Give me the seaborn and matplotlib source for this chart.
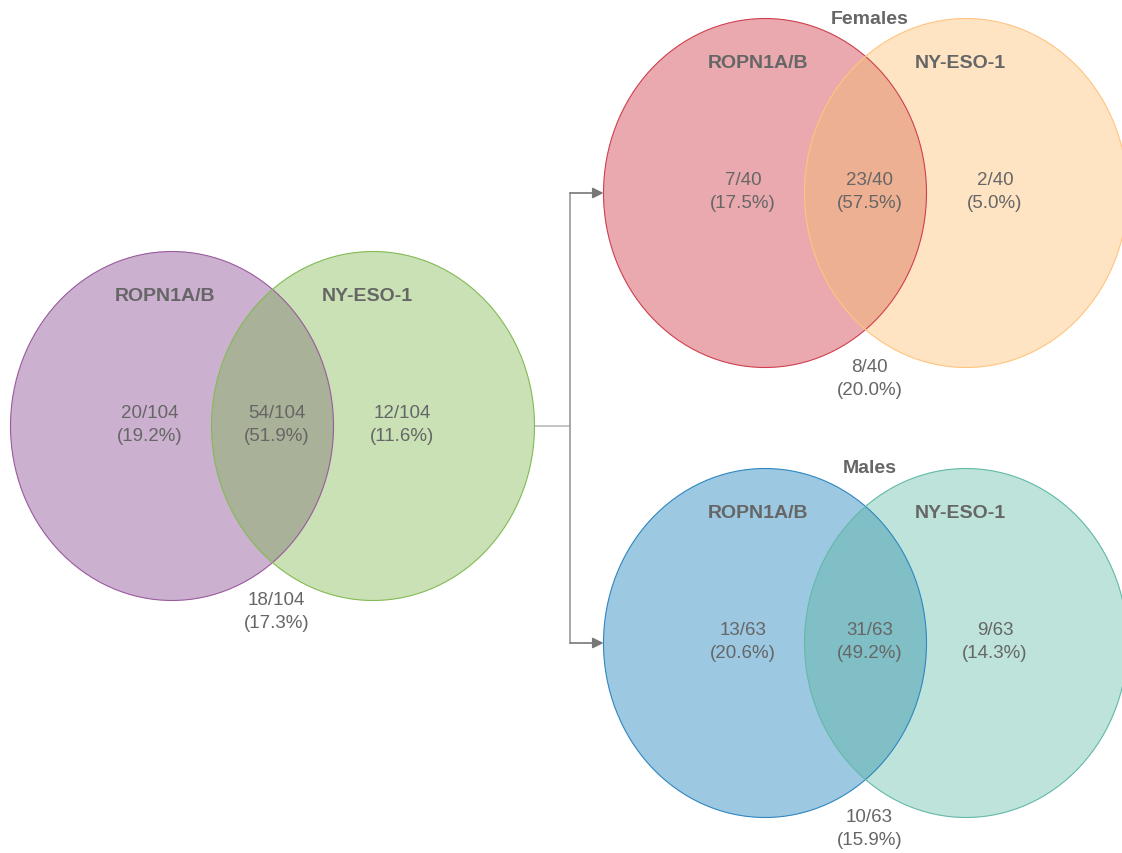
import matplotlib
matplotlib.use("Agg")
import matplotlib.pyplot as plt
from matplotlib.patches import Ellipse
import seaborn as sns

# Venn data
panels = ["All", "Females", "Males"]
set_names = ["ROPN1A/B", "NY-ESO-1"]
totals = [104, 40, 63]
only_ropn = [20, 7, 13]
both = [54, 23, 31]
only_nyeso = [12, 2, 9]
neither = [18, 8, 10]
# percentages as printed (rounded to sum to 100)
pct_ropn = ["19.2", "17.5", "20.6"]
pct_both = ["51.9", "57.5", "49.2"]
pct_nyeso = ["11.6", "5.0", "14.3"]
pct_neither = ["17.3", "20.0", "15.9"]

# layout (pixel coordinates, y downwards)
centers = [(172, 427), (765, 194), (765, 644)]
offset = 201
ew, eh = 323, 349
fills = [("#CBB0CF", "#C9E1B5", "#A9B198"),
         ("#E9A9AE", "#FFE4C4", "#EEB092"),
         ("#9CC8E2", "#BDE3DB", "#80BFC6")]
edges = [("#9A5A9E", "#82BB55"),
         ("#CF3F4E", "#FFC47E"),
         ("#2F86C0", "#62B9A7")]

sns.set_theme(style="white")
plt.rcParams["font.family"] = ["Liberation Sans", "DejaVu Sans"]
txt = "#666666"

fig = plt.figure(figsize=(11.22, 8.54), dpi=100)
ax = fig.add_axes([0, 0, 1, 1])
ax.set_xlim(0, 1122)
ax.set_ylim(854, 0)
ax.axis("off")

for i, (cx, cy) in enumerate(centers):
    fa, fb, fab = fills[i]
    ea, eb = edges[i]
    left = Ellipse((cx, cy), ew, eh, facecolor=fa, edgecolor="none", zorder=1)
    right = Ellipse((cx + offset, cy), ew, eh, facecolor=fb, edgecolor="none", zorder=1)
    ax.add_patch(left)
    ax.add_patch(right)
    inter = Ellipse((cx, cy), ew, eh, facecolor=fab, edgecolor="none", zorder=2)
    ax.add_patch(inter)
    inter.set_clip_path(right)
    ax.add_patch(Ellipse((cx, cy), ew, eh, facecolor="none", edgecolor=ea, lw=0.8, zorder=3))
    ax.add_patch(Ellipse((cx + offset, cy), ew, eh, facecolor="none", edgecolor=eb, lw=0.8, zorder=3))

    mid = cx + offset / 2
    ax.text(cx - 7, cy - 130, set_names[0], ha="center", va="center",
            fontsize=14, fontweight="bold", color=txt, zorder=4)
    ax.text(cx + offset - 6, cy - 130, set_names[1], ha="center", va="center",
            fontsize=14, fontweight="bold", color=txt, zorder=4)
    if i > 0:
        ax.text(mid + 4, cy - 175, panels[i], ha="center", va="center",
                fontsize=14, fontweight="bold", color=txt, zorder=4)

    n = totals[i]
    cells = [(cx - 22, only_ropn[i], pct_ropn[i]),
             (mid + 4, both[i], pct_both[i]),
             (cx + offset + 29, only_nyeso[i], pct_nyeso[i])]
    for x, c, p in cells:
        ax.text(x, cy - 2, f"{c}/{n}\n({p}%)", ha="center", va="center",
                fontsize=13.5, color=txt, linespacing=1.5, zorder=4)
    ax.text(mid + 4, cy + 185, f"{neither[i]}/{n}\n({pct_neither[i]}%)", ha="center",
            va="center", fontsize=13.5, color=txt, linespacing=1.5, zorder=4)

# connector from the overall diagram to the sex-split diagrams
jx = 570
ax.plot([centers[0][0] + offset + ew / 2, jx], [centers[0][1], centers[0][1]],
        color="#BBBBBB", lw=1.2, zorder=0)
ax.plot([jx, jx], [centers[1][1], centers[2][1]], color="#999999", lw=1.2, zorder=0)
for cx, cy in centers[1:]:
    ax.annotate("", xy=(cx - ew / 2, cy), xytext=(jx, cy),
                arrowprops=dict(arrowstyle="-|>", color="#777777", lw=1.2,
                                mutation_scale=16, shrinkA=0, shrinkB=0), zorder=0)

fig.savefig("out.png", dpi=100)
